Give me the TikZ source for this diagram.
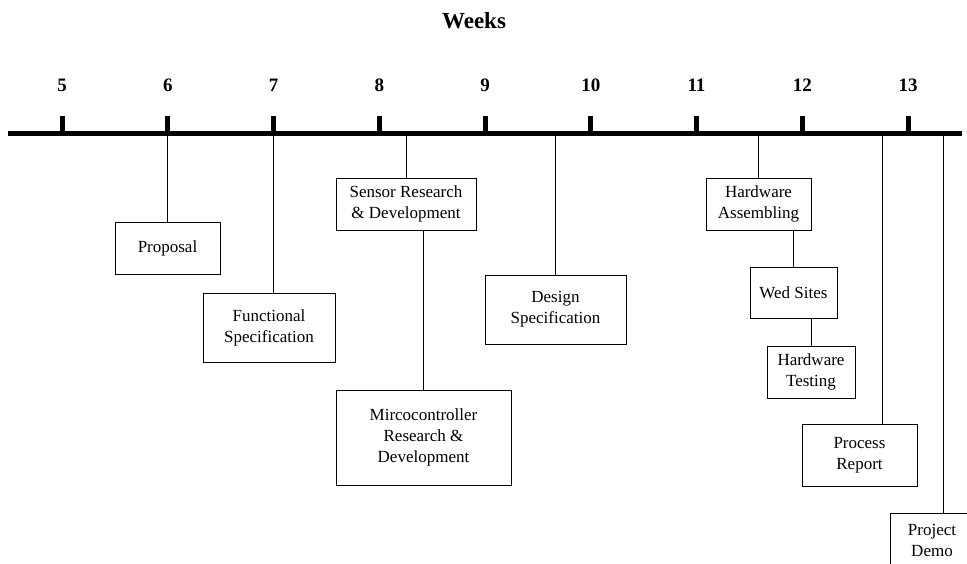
\documentclass[tikz,border=0pt]{standalone}
\usepackage{fontspec}
\setmainfont{Liberation Serif}
\usetikzlibrary{positioning}

\begin{document}
\begin{tikzpicture}[
x=1pt, y=-1pt,
task/.style={draw=black, line width=1pt, align=center, inner sep=0pt, font=\fontsize{17}{21}\selectfont},
link/.style={draw=black, line width=1pt},
weeknum/.style={anchor=base, font=\fontsize{19}{22}\selectfont\bfseries}
]
\useasboundingbox (0,0) rectangle (967,563);
\clip (0,0) rectangle (967,563);

\node[anchor=base, font=\fontsize{23}{26}\selectfont\bfseries](title) at (474,28){Weeks};

\draw[line width=5pt] (8,133.5) coordinate (axis_start) -- (962,133.5) coordinate (axis_end);
\foreach \w [count=\i from 0] in {5,...,13}{
  \node[weeknum](week_\w) at (62+\i*105.75,91){\w};
  \draw[line width=5pt] (62+\i*105.75,116) -- (62+\i*105.75,133.5);
}

\coordinate (c_prop) at (167.5,133.5);
\coordinate (c_func) at (273,133.5);
\coordinate (c_sens) at (406,133.5);
\coordinate (c_desg) at (555.5,133.5);
\coordinate (c_hwa) at (758.5,133.5);
\coordinate (c_rep) at (882,133.5);
\coordinate (c_demo) at (943,133.5);

\node[task, minimum width=105pt, minimum height=52pt](prop) at (167.5,248){Proposal};
\node[task, minimum width=132pt, minimum height=69pt](func) at (269,327.5){Functional\\Specification};
\node[task, minimum width=140pt, minimum height=52pt](sens) at (406,204){Sensor Research\\\& Development};
\node[task, minimum width=175pt, minimum height=95pt](mcu) at (423.5,437.5){Mircocontroller\\Research \&\\Development};
\node[task, minimum width=141pt, minimum height=69pt](desg) at (555.5,309.5){Design\\Specification};
\node[task, minimum width=105pt, minimum height=52pt](hwa) at (758.5,204){Hardware\\Assembling};
\node[task, minimum width=87pt, minimum height=51pt](web) at (793.5,292.5){Wed Sites};
\node[task, minimum width=88pt, minimum height=52pt](hwt) at (811,372){Hardware\\Testing};
\node[task, minimum width=115pt, minimum height=62pt](rep) at (859.5,455){Process\\Report};
\node[task, minimum width=84pt, minimum height=54pt](demo) at (932,540){Project\\Demo};

\draw[link] (c_prop) -- (c_prop |- prop.north);
\draw[link] (c_func) -- (c_func |- func.north);
\draw[link] (c_sens) -- (sens.north);
\draw[link] (mcu.north |- sens.south) -- (mcu.north);
\draw[link] (c_desg) -- (desg.north);
\draw[link] (c_hwa) -- (hwa.north);
\draw[link] (web.north |- hwa.south) -- (web.north);
\draw[link] (hwt.north |- web.south) -- (hwt.north);
\draw[link] (c_rep) -- (c_rep |- rep.north);
\draw[link] (c_demo) -- (c_demo |- demo.north);
\end{tikzpicture}
\end{document}
